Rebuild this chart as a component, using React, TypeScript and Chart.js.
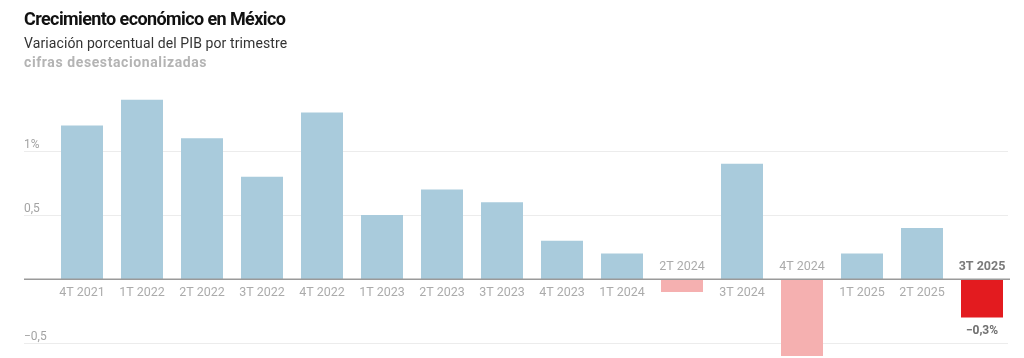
import React, { useEffect, useRef } from "react";
import { Chart, registerables } from "chart.js";

Chart.register(...registerables);

const categories = [
  "4T 2021", "1T 2022", "2T 2022", "3T 2022", "4T 2022", "1T 2023", "2T 2023", "3T 2023",
  "4T 2023", "1T 2024", "2T 2024", "3T 2024", "4T 2024", "1T 2025", "2T 2025", "3T 2025",
];
const values = [1.2, 1.4, 1.1, 0.8, 1.3, 0.5, 0.7, 0.6, 0.3, 0.2, -0.1, 0.9, -0.6, 0.2, 0.4, -0.3];
const tickValues = [1, 0.5, -0.5];
const tickLabels = ["1%", "0,5", "\u22120,5"];
const lastValueLabel = "\u22120,3%";

const FONT = "Roboto, 'Liberation Sans', sans-serif";

const overlayPlugin = {
  id: "overlay",
  beforeDatasetsDraw(chart: any) {
    const ctx = chart.ctx;
    const y = chart.scales.y;
    const area = chart.chartArea;
    ctx.save();
    ctx.strokeStyle = "#ececec";
    ctx.lineWidth = 1;
    ctx.fillStyle = "#a3a3a3";
    ctx.font = `12px ${FONT}`;
    ctx.textAlign = "left";
    ctx.textBaseline = "bottom";
    tickValues.forEach((v, i) => {
      const py = Math.round(y.getPixelForValue(v)) + 0.5;
      ctx.beginPath();
      ctx.moveTo(24, py);
      ctx.lineTo(area.right - 4, py);
      ctx.stroke();
      ctx.fillText(tickLabels[i], 24, py - 1);
    });
    ctx.restore();
  },
  afterDatasetsDraw(chart: any) {
    const ctx = chart.ctx;
    const x = chart.scales.x;
    const y = chart.scales.y;
    const area = chart.chartArea;
    const zy = y.getPixelForValue(0);
    ctx.save();
    ctx.strokeStyle = "#9a9a9a";
    ctx.lineWidth = 1.5;
    ctx.beginPath();
    ctx.moveTo(24, zy);
    ctx.lineTo(area.right - 2, zy);
    ctx.stroke();
    ctx.textAlign = "center";
    ctx.textBaseline = "middle";
    categories.forEach((c, i) => {
      const px = x.getPixelForValue(i);
      const last = i === categories.length - 1;
      ctx.font = last ? `bold 12.5px ${FONT}` : `12.5px ${FONT}`;
      ctx.fillStyle = last ? "#7a7a7a" : "#ababab";
      const py = values[i] >= 0 ? zy + 14 : zy - 12;
      ctx.fillText(c, px, py);
    });
    const li = values.length - 1;
    const lx = x.getPixelForValue(li);
    const ly = y.getPixelForValue(values[li]);
    ctx.font = `bold 12px ${FONT}`;
    ctx.fillStyle = "#6f6f6f";
    ctx.fillText(lastValueLabel, lx, ly + 13);
    ctx.restore();
  },
};

export default function App() {
  const ref = useRef<HTMLCanvasElement>(null);
  useEffect(() => {
    if (!ref.current) return;
    const colors = values.map((v, i) =>
      i === values.length - 1 ? "#e31b1f" : v >= 0 ? "#a9cbdc" : "#f5b0b0"
    );
    const chart = new Chart(ref.current, {
      type: "bar",
      data: {
        labels: categories,
        datasets: [
          {
            data: values,
            backgroundColor: colors,
            borderWidth: 0,
            barPercentage: 0.7,
            categoryPercentage: 1,
          },
        ],
      },
      options: {
        animation: false,
        responsive: false,
        maintainAspectRatio: false,
        layout: { padding: { left: 52, right: 12, top: 87, bottom: 2 } },
        plugins: { legend: { display: false }, tooltip: { enabled: false } },
        scales: {
          x: { display: false },
          y: { display: false, min: -0.6, max: 1.5 },
        },
      },
      plugins: [overlayPlugin],
    });
    return () => chart.destroy();
  }, []);
  return (
    <div style={{ position: "fixed", left: 0, top: 0, width: 1024, height: 358, background: "#fff", overflow: "hidden" }}>
      <canvas ref={ref} width={1024} height={358} style={{ position: "absolute", left: 0, top: 0 }} />
      <div style={{ position: "absolute", left: 24, top: 8, fontFamily: FONT }}>
        <div style={{ fontSize: 18, fontWeight: 700, color: "#111", lineHeight: "22px", letterSpacing: -0.6 }}>
          Crecimiento económico en México
        </div>
        <div style={{ fontSize: 14, color: "#333", lineHeight: "20px", marginTop: 3, letterSpacing: 0.1 }}>
          Variación porcentual del PIB por trimestre
        </div>
        <div style={{ fontSize: 14, fontWeight: 700, color: "#b4b4b4", lineHeight: "18px", letterSpacing: 0.6 }}>
          cifras desestacionalizadas
        </div>
      </div>
    </div>
  );
}
